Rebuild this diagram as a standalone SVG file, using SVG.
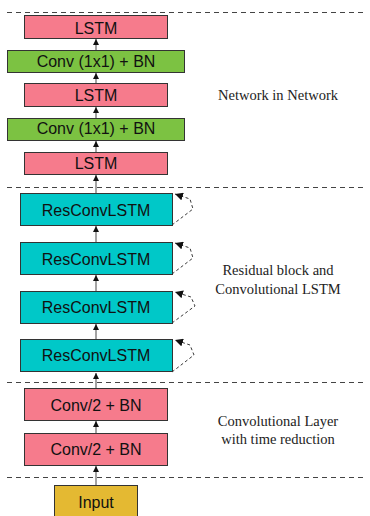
<svg xmlns="http://www.w3.org/2000/svg" width="370" height="516" viewBox="0 0 370 516">
<style>
.box{stroke:#333;stroke-width:1}
.pink{fill:#f67b8c}.green{fill:#7cc242}.cyan{fill:#00c8c8}.yellow{fill:#e4b932}
.t{font-family:"Liberation Sans",Arial,sans-serif;font-size:16px;fill:#111;text-anchor:middle}
.s{font-family:"Liberation Serif","Times New Roman",serif;font-size:14.5px;fill:#222;text-anchor:middle}
.sep{stroke:#444;stroke-width:1;stroke-dasharray:5,4;fill:none}
.edge{stroke:#666;stroke-width:1.2;fill:none}
.loop{stroke:#222;stroke-width:0.9;stroke-dasharray:3,2.5;fill:none}
</style>
<defs>
<marker id="ah" viewBox="0 0 6 6" refX="6" refY="3" markerWidth="5" markerHeight="5" orient="auto">
<path d="M0,0 L6,3 L0,6 z" fill="#111"/>
</marker>
<marker id="lh" viewBox="0 0 8 8" refX="8" refY="4" markerWidth="8" markerHeight="8" markerUnits="userSpaceOnUse" orient="auto">
<path d="M0,0 L8,4 L0,8 z" fill="#111"/>
</marker>
</defs>
<g id="separators">
<line class="sep" x1="7" y1="12.5" x2="366" y2="12.5"/>
<line class="sep" x1="7" y1="187.5" x2="366" y2="187.5"/>
<line class="sep" x1="7" y1="382.5" x2="366" y2="382.5"/>
<line class="sep" x1="7" y1="477.5" x2="366" y2="477.5"/>
</g>
<g id="connectors">
<line class="edge" x1="96" y1="50" x2="96" y2="39" marker-end="url(#ah)"/>
<line class="edge" x1="96" y1="83" x2="96" y2="73" marker-end="url(#ah)"/>
<line class="edge" x1="96" y1="118" x2="96" y2="107" marker-end="url(#ah)"/>
<line class="edge" x1="96" y1="152" x2="96" y2="141" marker-end="url(#ah)"/>
<line class="edge" x1="96" y1="193" x2="96" y2="175" marker-end="url(#ah)"/>
<line class="edge" x1="96" y1="242" x2="96" y2="226" marker-end="url(#ah)"/>
<line class="edge" x1="96" y1="291" x2="96" y2="275" marker-end="url(#ah)"/>
<line class="edge" x1="96" y1="339" x2="96" y2="324" marker-end="url(#ah)"/>
<line class="edge" x1="96" y1="388" x2="96" y2="373" marker-end="url(#ah)"/>
<line class="edge" x1="96" y1="433" x2="96" y2="421" marker-end="url(#ah)"/>
<line class="edge" x1="96" y1="485" x2="96" y2="466" marker-end="url(#ah)"/>
<path class="loop" d="M172,225 L193,209 L190,199 L175,194" marker-end="url(#lh)"/>
<path class="loop" d="M172,274 L193,258 L190,248 L175,243" marker-end="url(#lh)"/>
<path class="loop" d="M172,323 L195,306 L191,297 L175,292" marker-end="url(#lh)"/>
<path class="loop" d="M172,372 L194,355 L190,345 L175,340" marker-end="url(#lh)"/>
</g>
<g id="lstm3"><rect class="box pink" x="24.5" y="15.5" width="143" height="23"/><text class="t" x="96" y="33.5">LSTM</text></g>
<g id="conv1x1_2"><rect class="box green" x="7.5" y="50.5" width="177" height="22"/><text class="t" x="96" y="66.5">Conv (1x1) + BN</text></g>
<g id="lstm2"><rect class="box pink" x="24.5" y="83.5" width="143" height="23"/><text class="t" x="96" y="100.5">LSTM</text></g>
<g id="conv1x1_1"><rect class="box green" x="7.5" y="118.5" width="177" height="22"/><text class="t" x="96" y="134">Conv (1x1) + BN</text></g>
<g id="lstm1"><rect class="box pink" x="24.5" y="152.5" width="143" height="22"/><text class="t" x="96" y="168.5">LSTM</text></g>
<g id="res4"><rect class="box cyan" x="20.5" y="193.5" width="152" height="32"/><text class="t" x="96" y="215.5">ResConvLSTM</text></g>
<g id="res3"><rect class="box cyan" x="20.5" y="242.5" width="152" height="32"/><text class="t" x="96" y="264.5">ResConvLSTM</text></g>
<g id="res2"><rect class="box cyan" x="20.5" y="291.5" width="152" height="32"/><text class="t" x="96" y="313">ResConvLSTM</text></g>
<g id="res1"><rect class="box cyan" x="20.5" y="339.5" width="152" height="32"/><text class="t" x="96" y="361">ResConvLSTM</text></g>
<g id="conv2_2"><rect class="box pink" x="24.5" y="388.5" width="143" height="32"/><text class="t" x="96" y="410.5">Conv/2 + BN</text></g>
<g id="conv2_1"><rect class="box pink" x="24.5" y="433.5" width="143" height="32"/><text class="t" x="96" y="455">Conv/2 + BN</text></g>
<g id="input"><rect class="box yellow" x="54.5" y="485.5" width="83" height="36"/><text class="t" x="96" y="507.5">Input</text></g>
<g id="labels">
<text class="s" x="278" y="100">Network in Network</text>
<text class="s" x="278" y="275">Residual block and</text>
<text class="s" x="278" y="294">Convolutional LSTM</text>
<text class="s" x="278" y="426">Convolutional Layer</text>
<text class="s" x="278" y="444">with time reduction</text>
</g>
</svg>
